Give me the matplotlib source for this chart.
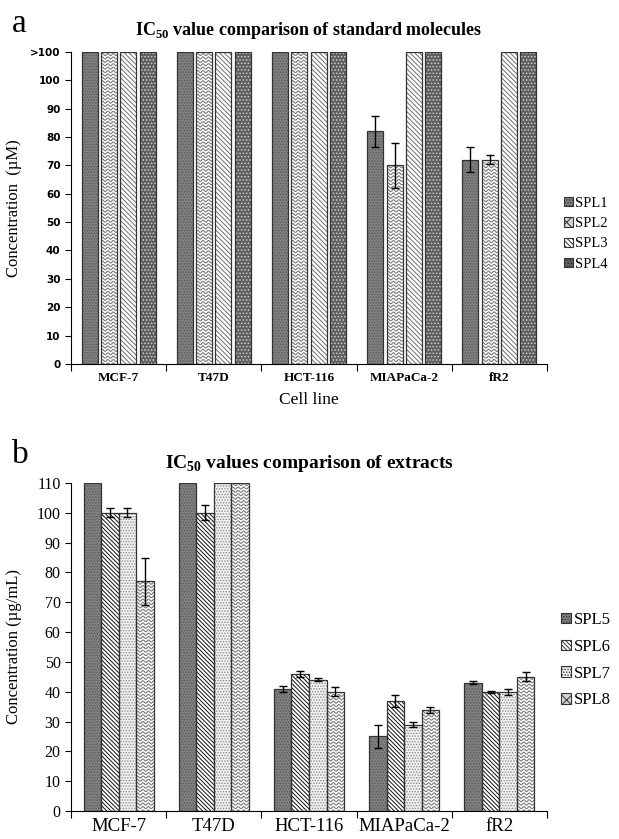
import matplotlib.pyplot as plt
import numpy as np
from matplotlib.patches import Patch

cells = ['MCF-7', 'T47D', 'HCT-116', 'MIAPaCa-2', 'fR2']

# panel a: standard molecules (110 is drawn as ">100")
std_names = ['SPL1', 'SPL2', 'SPL3', 'SPL4']
spl1 = [110, 110, 110, 82, 72]
spl2 = [110, 110, 110, 70, 72]
spl3 = [110, 110, 110, 110, 110]
spl4 = [110, 110, 110, 110, 110]
spl1_err = [0, 0, 0, 5.5, 4.5]
spl2_err = [0, 0, 0, 8, 1.5]
spl3_err = [0, 0, 0, 0, 0]
spl4_err = [0, 0, 0, 0, 0]

# panel b: extracts
ext_names = ['SPL5', 'SPL6', 'SPL7', 'SPL8']
spl5 = [110, 110, 41, 25, 43]
spl6 = [100, 100, 46, 37, 40]
spl7 = [100, 110, 44, 29, 40]
spl8 = [77, 110, 40, 34, 45]
spl5_err = [0, 0, 1, 4, 0.5]
spl6_err = [1.5, 2.5, 1, 2, 0.3]
spl7_err = [1.5, 0, 0.5, 1, 1]
spl8_err = [8, 0, 1.5, 1, 1.5]

plt.rcParams['font.family'] = 'Liberation Serif'
plt.rcParams['mathtext.fontset'] = 'custom'
plt.rcParams['mathtext.rm'] = 'Liberation Serif'
plt.rcParams['mathtext.bf'] = 'Liberation Serif:bold'
plt.rcParams['hatch.linewidth'] = 0.7

# (facecolor, hatch colour, hatch) ; hatch 'wave' = drawn sine texture
styles_a = [('#808080', '#5c5c5c', '......'),
            ('#ffffff', '#7a7a7a', 'wave'),
            ('#ffffff', '#6e6e6e', '\\\\\\\\\\\\\\'),
            ('#5e5e5e', '#d0d0d0', '.....')]
styles_b = [('#808080', '#5c5c5c', '......'),
            ('#ffffff', '#111111', '\\\\\\\\\\\\\\\\'),
            ('#f2f2f2', '#8a8a8a', '......'),
            ('#ffffff', '#7a7a7a', 'wave')]


def wavy(ax, bar, color):
    # sine-wave texture inside one bar, clipped to it
    x0, w, h = bar.get_x(), bar.get_width(), bar.get_height()
    p0 = ax.transData.transform((0, 0))
    p1 = ax.transData.transform((1, 1))
    sx, sy = p1[0] - p0[0], p1[1] - p0[1]
    xs = np.linspace(x0, x0 + w, 60)
    wav = 1.0 * np.sin(2 * np.pi * (xs - x0) * sx / 5.5) / sy
    for yb in np.arange(0, h + 3.4 / sy, 3.4 / sy):
        ln, = ax.plot(xs, yb + wav, color=color, lw=0.8, zorder=2.5)
        ln.set_clip_path(bar)


def draw_panel(ax, series, errs, styles, width, step):
    x = np.arange(len(cells))
    n = len(series)
    ax.set_xlim(-0.5, len(cells) - 0.5)
    ax.set_ylim(0, 110)
    for k in range(n):
        pos = x + (k - (n - 1) / 2) * step
        fc, hc, h = styles[k]
        if h == 'wave':
            bars = ax.bar(pos, series[k], width, color=fc, linewidth=0, zorder=2)
            for b in bars:
                wavy(ax, b, hc)
        else:
            ax.bar(pos, series[k], width, color=fc, edgecolor=hc, hatch=h, linewidth=0, zorder=2)
        ax.bar(pos, series[k], width, fill=False, edgecolor='#333333', linewidth=0.9, zorder=3)
        e = np.array(errs[k])
        m = e > 0
        if m.any():
            ax.errorbar(pos[m], np.array(series[k])[m], yerr=e[m], fmt='none', ecolor='black',
                        elinewidth=1, capsize=3, capthick=1, zorder=4)
    ax.set_xticks(x)
    ax.set_xticks(np.arange(-0.5, len(cells)), minor=True)
    ax.tick_params(axis='x', which='major', length=0)
    ax.tick_params(axis='x', which='minor', length=5, direction='out', width=0.8)
    ax.tick_params(axis='y', length=4, width=0.8)
    ax.set_yticks(np.arange(0, 111, 10))
    ax.spines['top'].set_visible(False)
    ax.spines['right'].set_visible(False)
    for s in ('left', 'bottom'):
        ax.spines[s].set_linewidth(0.8)
    handles = []
    for fc, hc, h in styles:
        if h == 'wave':
            handles.append(Patch(facecolor='#d4d4d4', edgecolor='#333333', hatch='xxx', linewidth=0.8))
        else:
            handles.append(Patch(facecolor=fc, edgecolor='#333333', hatch=h, linewidth=0.8))
    return handles


fig = plt.figure(figsize=(6.19, 8.39), dpi=100)

# ----- panel a -----
ax1 = fig.add_axes([0.1147, 0.5662, 0.769, 0.3719])
h1 = draw_panel(ax1, [spl1, spl2, spl3, spl4], [spl1_err, spl2_err, spl3_err, spl4_err],
                styles_a, 0.168, 0.203)
ax1.set_yticklabels([str(v) for v in range(0, 101, 10)] + ['>100'],
                    fontsize=7.5, fontweight='bold', family='DejaVu Sans')
ax1.tick_params(axis='x', which='major', pad=6)
ax1.set_xticklabels(cells, fontsize=9.5, fontweight='bold')
ax1.set_ylabel('Concentration  (\u00b5M)', fontsize=12)
ax1.yaxis.set_label_coords(-0.103, 0.5)
ax1.set_xlabel('Cell line', fontsize=12.5, va='center')
ax1.xaxis.set_label_coords(0.5, -0.115)
fig.text(0.4992, 0.9642, 'IC$_{\\mathbf{50}}$ value comparison of standard molecules',
         fontsize=13, fontweight='bold', ha='center', va='center')
ax1.legend(h1, std_names, loc='center left', bbox_to_anchor=(1.036, 0.417), frameon=False,
           fontsize=10.5, handlelength=0.6, handleheight=0.6, handletextpad=0.15,
           labelspacing=0.5, borderpad=0, borderaxespad=0)
fig.text(0.019, 0.9619, 'a', fontsize=24, va='baseline', ha='left')

# ----- panel b -----
ax2 = fig.add_axes([0.1147, 0.0334, 0.769, 0.3909])
h2 = draw_panel(ax2, [spl5, spl6, spl7, spl8], [spl5_err, spl6_err, spl7_err, spl8_err],
                styles_b, 0.184, 0.184)
ax2.tick_params(axis='y', labelsize=11.5)
ax2.tick_params(axis='x', which='major', pad=5)
ax2.set_xticklabels(cells, fontsize=13.5)
ax2.set_ylabel('Concentration (\u00b5g/mL)', fontsize=12)
ax2.yaxis.set_label_coords(-0.103, 0.5)
fig.text(0.4992, 0.4481, 'IC$_{\\mathbf{50}}$ values comparison of extracts',
         fontsize=14, fontweight='bold', ha='center', va='center')
ax2.legend(h2, ext_names, loc='center left', bbox_to_anchor=(1.03, 0.46), frameon=False,
           fontsize=12, handlelength=0.6, handleheight=0.6, handletextpad=0.15,
           labelspacing=0.65, borderpad=0, borderaxespad=0)
fig.text(0.019, 0.4482, 'b', fontsize=24, va='baseline', ha='left')

fig.savefig('out.png', dpi=100)
